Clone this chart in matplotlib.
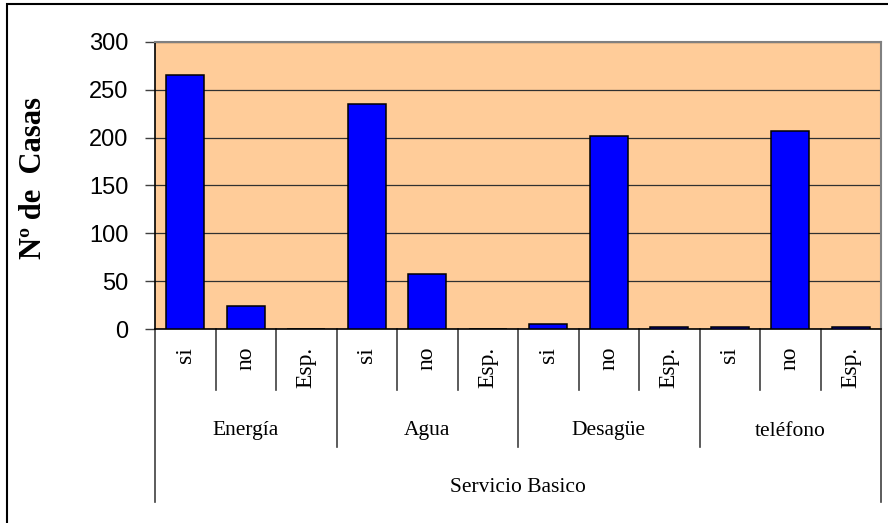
import matplotlib.pyplot as plt
import matplotlib.transforms as mtransforms
from matplotlib.patches import Rectangle
import numpy as np

# chart data
categories = ['si', 'no', 'Esp.'] * 4
groups = ['Energía', 'Agua', 'Desagüe', 'teléfono']
casas = [265, 24, 0, 235, 57, 0, 5, 202, 2, 2, 207, 2]
outer_label = 'Servicio Basico'
y_label = 'Nº de  Casas'
y_ticks = [0, 50, 100, 150, 200, 250, 300]

W, H = 888, 523
fig = plt.figure(figsize=(W / 100, H / 100), dpi=100)

# plot area in pixels
left, right, top, bottom = 155, 881, 42, 329
ax = fig.add_axes([left / W, 1 - bottom / H, (right - left) / W, (bottom - top) / H])
ax.set_facecolor('#FFCC99')

x = np.arange(len(categories))
ax.bar(x, casas, width=0.62, color='#0000FF', edgecolor='black', linewidth=1.1, zorder=3)

ax.set_xlim(-0.5, len(categories) - 0.5)
ax.set_ylim(0, 300)
ax.set_yticks(y_ticks)
ax.set_yticklabels([str(t) for t in y_ticks], fontsize=17, family='Liberation Sans')
ax.tick_params(axis='y', length=7, width=1, pad=12, direction='out', colors='#404040', labelcolor='black')
ax.set_xticks([])
ax.grid(axis='y', color='#303030', linewidth=0.9, zorder=1)

for s in ['top', 'right']:
    ax.spines[s].set_color('#808080')
    ax.spines[s].set_linewidth(1.5)
for s in ['left', 'bottom']:
    ax.spines[s].set_color('black')
    ax.spines[s].set_linewidth(1.2)

# hierarchical category axis below the plot
trans = mtransforms.blended_transform_factory(ax.transData, fig.transFigure)
def fy(py):
    return 1 - py / H

n = len(categories)
for i in range(n + 1):
    xb = i - 0.5
    if i == 0 or i == n:
        yend = 502
    elif i % 3 == 0:
        yend = 447
    else:
        yend = 390
    ax.plot([xb, xb], [fy(bottom), fy(yend)], transform=trans, color='#404040',
            linewidth=1.2, clip_on=False)

for i, c in enumerate(categories):
    fig.text(i, fy(347), c, transform=trans, rotation=90, ha='center', va='top',
             fontsize=17, family='Liberation Serif')

for g, name in enumerate(groups):
    fig.text(g * 3 + 1, fy(431), name, transform=trans, ha='center', va='center',
             fontsize=15.5, family='Liberation Serif')

fig.text((n - 1) / 2, fy(488), outer_label, transform=trans, ha='center', va='center',
         fontsize=15.5, family='Liberation Serif')

fig.text(34 / W, fy(178), y_label, rotation=90, ha='center', va='center',
         fontsize=22, fontweight='bold', family='Liberation Serif')

# outer chart border (cropped at right and bottom)
fig.add_artist(Rectangle((7 / W, -0.1), 1.2, fy(4) + 0.1, transform=fig.transFigure,
                         fill=False, edgecolor='black', linewidth=1.5))

fig.savefig('out.png', dpi=100)
